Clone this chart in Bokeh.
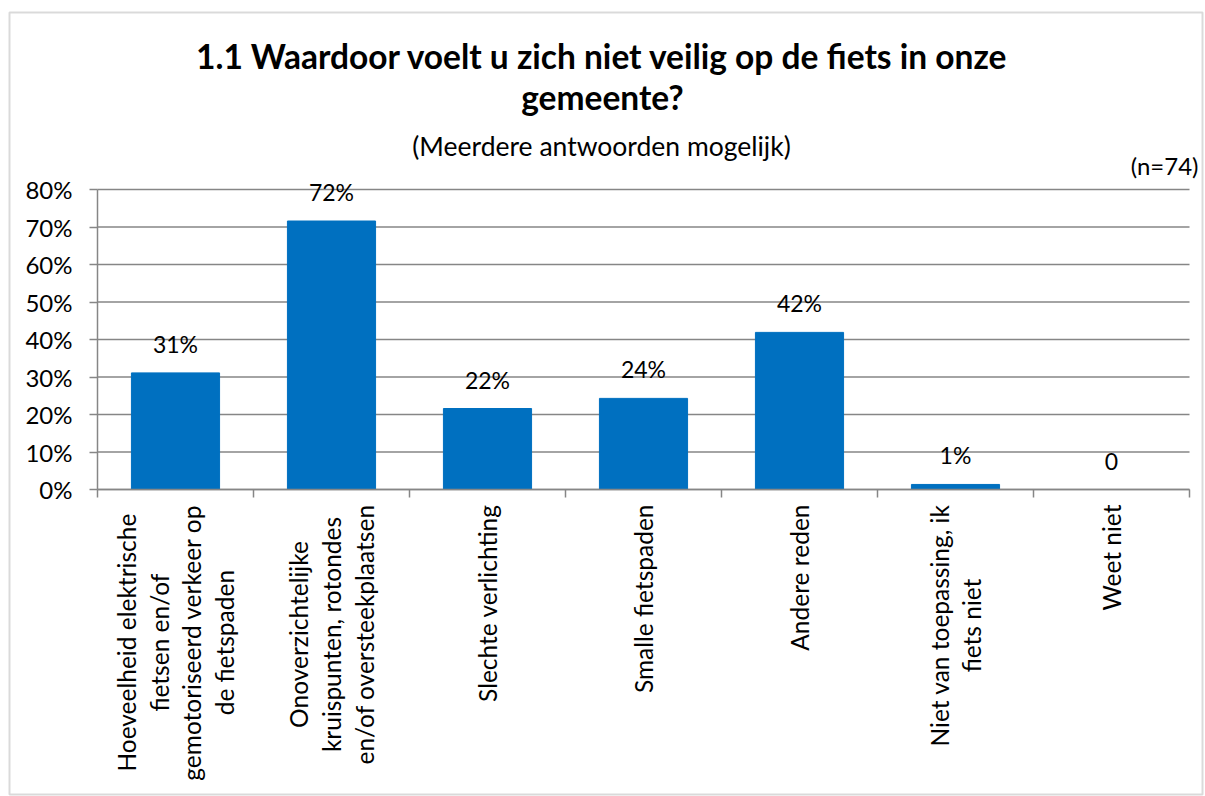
import math
from bokeh.plotting import figure
from bokeh.core.properties import value
from bokeh.models import (ColumnDataSource, FixedTicker, NumeralTickFormatter, LinearAxis,
                          Label, LabelSet, BoxAnnotation, Range1d)
from bokeh.embed import file_html
from bokeh.resources import INLINE

categories = [
    "Hoeveelheid elektrische\nfietsen en/of\ngemotoriseerd verkeer op\nde fietspaden",
    "Onoverzichtelijke\nkruispunten, rotondes\nen/of oversteekplaatsen",
    "Slechte verlichting",
    "Smalle fietspaden",
    "Andere reden",
    "Niet van toepassing, ik\nfiets niet",
    "Weet niet",
]
values = [0.311, 0.716, 0.216, 0.243, 0.419, 0.0135, 0.0]
value_labels = ["31%", "72%", "22%", "24%", "42%", "1%", "0"]
y_ticks = [0.0, 0.1, 0.2, 0.3, 0.4, 0.5, 0.6, 0.7, 0.8]
title_text = "1.1 Waardoor voelt u zich niet veilig op de fiets in onze\ngemeente?"
subtitle_text = "(Meerdere antwoorden mogelijk)"
n_text = "(n=74)"

FONT = "Lato"
GRAY = "#868686"
BLUE = "#0070C0"
W, H = 1205, 796
# plot-area pixel box (layout)
PL, PR, PT, PB = 97, 1189, 189, 489

n = len(categories)
ymax = max(y_ticks)
kx = (PR - PL) / n
ky = (PB - PT) / ymax

xs = [i + 0.5 for i in range(n)]
bounds_x = list(range(n + 1))
src = ColumnDataSource(dict(x=xs, top=values, lab=value_labels))
cat_src = ColumnDataSource(dict(x=xs, y=[0.0] * n, text=categories))
grid_src = ColumnDataSource(dict(y=y_ticks, x0=[0] * len(y_ticks), x1=[n] * len(y_ticks)))

p = figure(width=W, height=H, output_backend="svg", toolbar_location=None,
           x_range=Range1d(-PL / kx, n + (W - PR) / kx),
           y_range=Range1d(-(H - PB) / ky, ymax + PT / ky),
           x_axis_location=None, y_axis_location=None,
           min_border_left=0, min_border_right=0, min_border_top=0, min_border_bottom=0)
p.outline_line_color = None
p.background_fill_color = "white"
p.border_fill_color = "white"
p.xgrid.visible = False
p.ygrid.visible = False

# horizontal gridlines from the y tick values
p.segment(x0="x0", x1="x1", y0="y", y1="y", source=grid_src, line_color=GRAY, line_width=1.5)

p.vbar(x="x", top="top", width=0.565, source=src, color=BLUE)

p.add_layout(LabelSet(x="x", y="top", text="lab", source=src, text_align="center",
                      text_baseline="alphabetic", y_offset=20, text_font=value(FONT),
                      text_font_size="23px", text_color="black"))

# y axis
ya = LinearAxis(fixed_location=0, bounds=(0, ymax), ticker=FixedTicker(ticks=y_ticks),
                formatter=NumeralTickFormatter(format="0%"))
ya.major_tick_out = 8
ya.major_tick_in = 0
ya.minor_tick_out = 0
ya.minor_tick_in = 0
ya.axis_line_color = GRAY
ya.axis_line_width = 1.5
ya.major_tick_line_color = GRAY
ya.major_tick_line_width = 1.5
ya.major_label_text_font = FONT
ya.major_label_text_font_size = "24px"
ya.major_label_text_color = "black"
ya.major_label_standoff = 17
p.add_layout(ya, "left")

# x axis (tick marks at category boundaries)
xa = LinearAxis(fixed_location=0, bounds=(0, n), ticker=FixedTicker(ticks=bounds_x))
xa.major_tick_out = 8
xa.major_tick_in = 0
xa.minor_tick_out = 0
xa.minor_tick_in = 0
xa.major_tick_line_color = GRAY
xa.major_tick_line_width = 1.5
xa.axis_line_color = GRAY
xa.axis_line_width = 1.5
xa.major_label_text_color = None
p.add_layout(xa, "below")

# category labels, rotated, lines centred
p.text(x="x", y="y", text="text", source=cat_src, angle=math.pi / 2,
       anchor="center_right", text_align="center", y_offset=15,
       text_font=value(FONT), text_font_size="24.5px", text_color="black",
       text_line_height=1.13)

p.add_layout(Label(x=602, y=76, x_units="canvas", y_units="canvas", text=title_text,
                   text_align="center", text_baseline="middle", text_font=FONT,
                   text_font_style="bold", text_font_size="33.5px", text_color="black",
                   text_line_height=1.02))
p.add_layout(Label(x=601, y=145, x_units="canvas", y_units="canvas", text=subtitle_text,
                   text_align="center", text_baseline="alphabetic", text_font=FONT,
                   text_font_size="26.5px", text_color="black"))
p.add_layout(Label(x=1198, y=165, x_units="canvas", y_units="canvas", text=n_text,
                   text_align="right", text_baseline="alphabetic", text_font=FONT,
                   text_font_size="24px", text_color="black"))
p.add_layout(BoxAnnotation(left=9, right=1202, top=12, bottom=794,
                           left_units="canvas", right_units="canvas",
                           top_units="canvas", bottom_units="canvas",
                           fill_alpha=0, line_color=GRAY, line_width=2))

open("out.html", "w").write(file_html(p, INLINE))
